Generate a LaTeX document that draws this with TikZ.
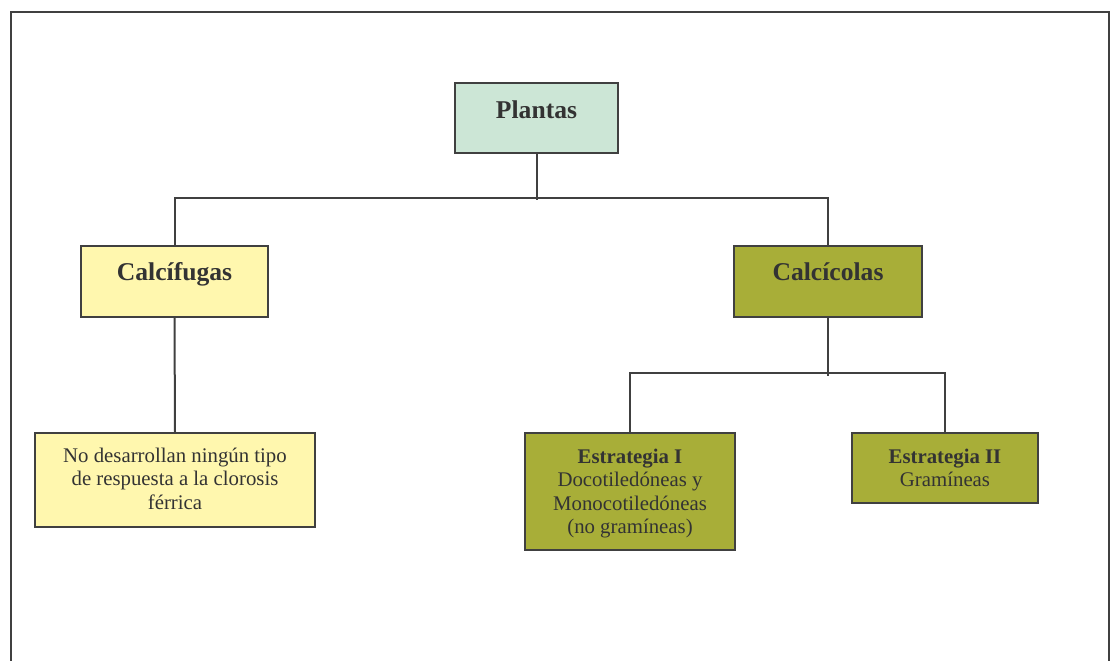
\documentclass[tikz,border=0pt]{standalone}
\usepackage{fontspec}
\setmainfont{Liberation Serif}
\definecolor{lc}{HTML}{404040}
\definecolor{tc}{HTML}{333333}
\definecolor{mint}{HTML}{CCE6D6}
\definecolor{paleyellow}{HTML}{FFF7AE}
\definecolor{olive}{HTML}{A8AE38}
\begin{document}
\begin{tikzpicture}[x=1pt,y=-1pt,
  box/.style={draw=lc,line width=2pt,inner sep=0pt},
  conn/.style={draw=lc,line width=2pt},
  hd/.style={text=tc,inner sep=0pt,font=\fontsize{25.6}{30}\selectfont\bfseries},
  tx/.style={text=tc,inner sep=0pt,align=center,font=\fontsize{20.8}{23.5}\selectfont}]
\useasboundingbox (0,0) rectangle (1117,661);
\begin{scope}
\clip (0,0) rectangle (1117,661);
\draw[draw=lc,line width=2pt] (11,12.5) rectangle (1108.5,720);
\end{scope}
% boxes
\node[box,fill=mint,minimum width=163,minimum height=70] (plantas) at (536.5,118) {};
\node[box,fill=paleyellow,minimum width=187,minimum height=71] (calcifugas) at (174.5,281.5) {};
\node[box,fill=olive,minimum width=188,minimum height=71] (calcicolas) at (828,281.5) {};
\node[box,fill=paleyellow,minimum width=280,minimum height=94] (nodes) at (175,480) {};
\node[box,fill=olive,minimum width=210,minimum height=117] (e1) at (630,491.5) {};
\node[box,fill=olive,minimum width=186,minimum height=70] (e2) at (945,468) {};
% texts
\node[hd,anchor=base] (plantasT) at (536.5,118) {Plantas};
\node[hd,anchor=base] (calcifugasT) at (174.5,280) {Calcífugas};
\node[hd,anchor=base] (calcicolasT) at (828,280) {Calcícolas};
\node[tx,anchor=north] (nodesT) at (175,445.5) {\strut No desarrollan ningún tipo\\de respuesta a la clorosis\\férrica};
\node[tx,anchor=north] (e1T) at (630,446.5) {\strut\textbf{Estrategia I}\\Docotiledóneas y\\Monocotiledóneas\\(no gramíneas)};
\node[tx,anchor=north] (e2T) at (945,446.5) {\strut\textbf{Estrategia II}\\Gramíneas};
% connectors
\draw[conn] (plantas.south) -- ++(0,46);
\draw[conn] (calcifugas.north) -- ++(0,-47) -| (calcicolas.north);
\draw[conn] (calcifugas.south) -- (nodes.north);
\draw[conn] (calcicolas.south) -- ++(0,57.5);
\draw[conn] (e1.north) -- ++(0,-59) -| (e2.north);
\end{tikzpicture}
\end{document}
